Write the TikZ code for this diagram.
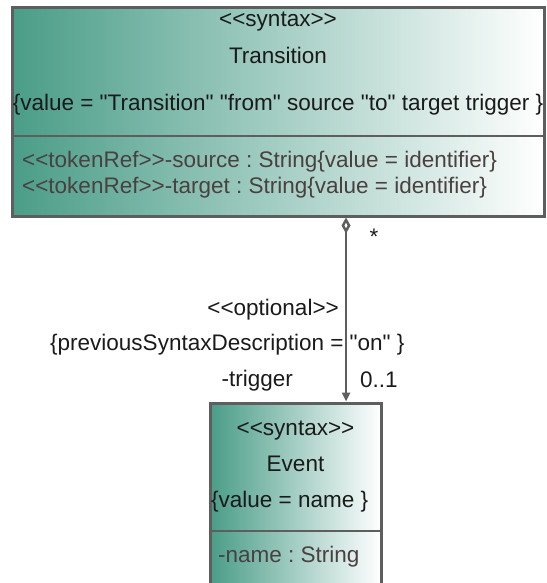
\documentclass[tikz,border=0pt]{standalone}
\usepackage{fontspec}
\setmainfont{Liberation Sans}[Ligatures=TeXOff]
\usetikzlibrary{arrows.meta}
\definecolor{tealL}{HTML}{4A9D88}
\definecolor{boxline}{HTML}{5E5E5E}
\definecolor{attr}{HTML}{4A4040}
\definecolor{txt}{HTML}{1A1A1A}
\frenchspacing
\begin{document}
\begin{tikzpicture}[x=1pt,y=-1pt,
  umlbox/.style={draw=boxline, line width=3pt, left color=tealL, right color=white, inner sep=0pt, rectangle},
  divider/.style={draw=boxline, line width=2.6pt},
  lbl/.style={font=\fontsize{22.5}{26}\selectfont, text=txt, inner sep=0pt},
  attrlbl/.style={lbl, text=attr},
  assoc/.style={draw=boxline, line width=2.5pt, {Diamond[open,length=16pt,width=9pt]}-{Triangle[length=9pt,width=8pt]}}]
\useasboundingbox (0,0) rectangle (546,583);
\clip (0,0) rectangle (546,583);
% Transition class
\node[umlbox, minimum width=532pt, minimum height=208pt] (trans) at (278,112) {};
\coordinate (d1) at (0,136);
\draw[divider] (trans.west |- d1) -- (trans.east |- d1);
\node[lbl, anchor=mid] (s1) at (278,24) {<<syntax>>};
\node[lbl, anchor=mid] (t1) at (278,61) {Transition};
\node[lbl, anchor=mid] (v1) at (278,108) {\{value = "Transition" "from" source "to" target trigger \}};
\node[attrlbl, anchor=mid west] (a1) at (22,165) {<<tokenRef>>-source : String\{value = identifier\}};
\node[attrlbl, anchor=mid west] (a2) at (22,191) {<<tokenRef>>-target : String\{value = identifier\}};
% Event class
\node[umlbox, minimum width=171pt, minimum height=200pt] (event) at (295.5,503) {};
\coordinate (d2) at (0,531);
\draw[divider] (event.west |- d2) -- (event.east |- d2);
\node[lbl, anchor=mid] (s2) at (295.5,433) {<<syntax>>};
\node[lbl, anchor=mid] (e1) at (295.5,469) {Event};
\node[lbl, anchor=mid west] (v2) at (211,505) {\{value = name \}};
\node[attrlbl, anchor=mid west] (a3) at (218,560) {-name : String};
% association
\coordinate (lx) at (346,0);
\draw[assoc] (trans.south -| lx) -- (event.north -| lx);
\node[lbl, anchor=base] (m1) at (374,244) {*};
\node[lbl, anchor=mid east] (o1) at (339,313) {<<optional>>};
\node[lbl, anchor=mid west] (p1) at (50,348) {\{previousSyntaxDescription = "on" \}};
\node[lbl, anchor=mid east] (r1) at (293,384) {-trigger};
\node[lbl, anchor=mid west] (m2) at (360,385) {0..1};
\end{tikzpicture}
\end{document}
